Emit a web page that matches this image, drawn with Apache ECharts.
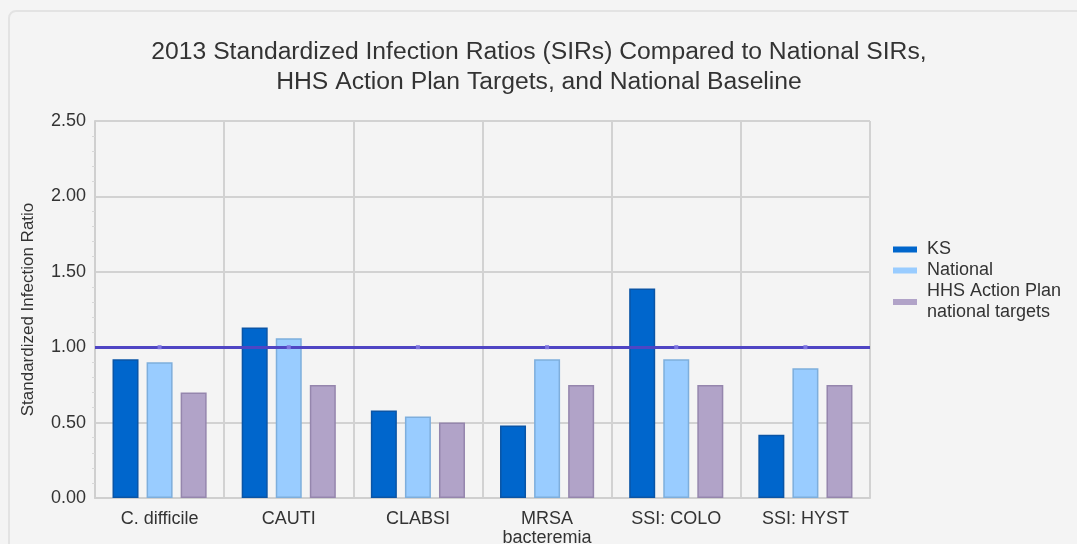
<!DOCTYPE html>
<html>
<head>
<meta charset="utf-8">
<script src="https://cdn.jsdelivr.net/npm/echarts@6.0.0/dist/echarts.min.js"></script>
<style>
html,body{margin:0;padding:0;background:#f4f4f4;width:1077px;height:544px;overflow:hidden;}
#panel{position:absolute;left:8px;top:10px;width:1200px;height:700px;border:2px solid #e3e3e3;border-radius:8px;box-sizing:border-box;}
#chart{position:absolute;left:0;top:0;width:1077px;height:544px;}
</style>
</head>
<body>
<div id="panel"></div>
<div id="chart"></div>
<script>
const categories = ['C. difficile', 'CAUTI', 'CLABSI', 'MRSA\nbacteremia', 'SSI: COLO', 'SSI: HYST'];
const ksValues = [0.92, 1.13, 0.58, 0.48, 1.39, 0.42];
const nationalValues = [0.90, 1.06, 0.54, 0.92, 0.92, 0.86];
const targetValues = [0.70, 0.75, 0.50, 0.75, 0.75, 0.75];
const baselineValues = [1, 1, 1, 1, 1, 1];
const yTicks = [0, 0.5, 1.0, 1.5, 2.0, 2.5];

const font = '"Liberation Sans", Arial, sans-serif';
const chart = echarts.init(document.getElementById('chart'), null, {renderer: 'canvas'});
chart.setOption({
  backgroundColor: 'transparent',
  textStyle: {fontFamily: font},
  title: {
    text: '2013 Standardized Infection Ratios (SIRs) Compared to National SIRs,\nHHS Action Plan Targets, and National Baseline',
    left: 534, textAlign: 'center', top: 32,
    textStyle: {fontFamily: font, fontSize: 24.7, fontWeight: 'normal', color: '#333', lineHeight: 30}
  },
  legend: {
    orient: 'vertical', left: 888, top: 234, itemGap: 0,
    itemWidth: 24, itemHeight: 6, icon: 'rect',
    itemStyle: {borderWidth: 0},
    data: ['KS', 'National', 'HHS Action Plan\nnational targets'],
    textStyle: {fontFamily: font, fontSize: 18, color: '#333', lineHeight: 21, padding: [0, 0, 0, 5]}
  },
  grid: {left: 95, right: 207, top: 121, bottom: 46, containLabel: false, outerBoundsMode: 'none'},
  xAxis: {
    type: 'category', data: categories, boundaryGap: true,
    axisLine: {show: true, lineStyle: {color: '#cfcfcf', width: 2}},
    axisTick: {show: false},
    splitLine: {show: true, lineStyle: {color: '#d2d2d2', width: 2}},
    axisLabel: {fontFamily: font, fontSize: 18, color: '#333', margin: 12, lineHeight: 19, interval: 0}
  },
  yAxis: {
    type: 'value', min: yTicks[0], max: yTicks[yTicks.length - 1], interval: 0.5,
    name: 'Standardized Infection Ratio', nameLocation: 'middle', nameGap: 58, nameRotate: 90,
    nameTextStyle: {fontFamily: font, fontSize: 17, color: '#333'},
    axisLine: {show: true, lineStyle: {color: '#cfcfcf', width: 2}},
    axisTick: {show: false},
    minorTick: {show: true, splitNumber: 5, length: 3, lineStyle: {color: '#d8d8d8'}},
    splitLine: {show: true, lineStyle: {color: '#d2d2d2', width: 2}},
    axisLabel: {fontFamily: font, fontSize: 18, color: '#333', margin: 9, formatter: v => v.toFixed(2)}
  },
  series: [
    {name: 'KS', type: 'bar', data: ksValues, barWidth: 26, barGap: '31%',
     itemStyle: {color: '#0066cc', borderColor: '#0a55a6', borderWidth: 1.5}},
    {name: 'National', type: 'bar', data: nationalValues, barWidth: 26,
     itemStyle: {color: '#99ccff', borderColor: '#7eaedc', borderWidth: 1.5}},
    {name: 'HHS Action Plan\nnational targets', type: 'bar', data: targetValues, barWidth: 26,
     itemStyle: {color: '#b1a3c8', borderColor: '#9586ad', borderWidth: 1.5}},
    {name: 'Baseline', type: 'line', data: baselineValues, z: 10,
     symbol: 'rect', symbolSize: 4, itemStyle: {color: '#7d74e0'},
     lineStyle: {width: 0},
     markLine: {silent: true, symbol: 'none', label: {show: false},
       lineStyle: {color: '#4f45c4', width: 3, type: 'solid'},
       data: [{yAxis: 1}]}}
  ]
});
</script>
</body>
</html>
